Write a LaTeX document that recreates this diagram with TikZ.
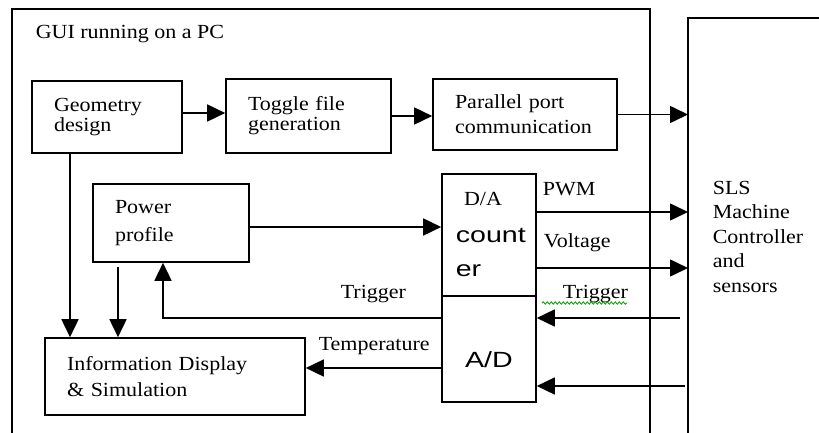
\documentclass[tikz,border=0pt]{standalone}
\usepackage{fontspec}
\setmainfont{Liberation Serif}[FakeStretch=1.1]
\newfontfamily\dacfont{Liberation Sans}[FakeStretch=1.3]
\usetikzlibrary{arrows.meta,decorations.pathmorphing}

\begin{document}
\begin{tikzpicture}[x=1pt,y=-1pt,line width=1.6pt,
    font=\fontsize{20}{20}\selectfont,
    box/.style={draw,align=left,inner xsep=22pt,inner ysep=0pt},
    lbl/.style={anchor=base west,inner sep=0pt},
    arr/.style={-{Triangle[length=18pt,width=17pt]}}]
    \useasboundingbox (0,0) rectangle (819,433);
    % Frames
        % PC
        \draw (12,433) -- (12,9) -- (650,9) -- (650,433);
        \node[lbl] (gui) at (35,39) {GUI running on a PC};
        % Machine
        \draw (688,433) -- (688,18) -- (819,18);
        \coordinate (slsedge) at (688,0);
        \node[anchor=north west,inner sep=0pt,align=left,font=\fontsize{20}{24.5}\selectfont] (sls) at (712,180) {SLS\\Machine\\Controller\\and\\sensors};
    % Boxes
        \node[box,text width=106pt,minimum height=72pt] (geo) at (107,117) {Geometry\\design};
        \node[box,text width=121pt,minimum height=74pt] (tog) at (308.5,116) {Toggle file\\generation};
        \node[box,text width=140pt,minimum height=71pt] (par) at (525,114.5) {Parallel port\\[5pt]communication};
        \node[box,text width=112pt,minimum height=78pt] (pow) at (171,223) {Power\\[8pt]profile};
        \node[box,text width=216pt,minimum height=77pt] (info) at (175,376.5) {Information Display\\[6pt]\& Simulation};
        % Converter
        \node[draw,minimum width=94pt,minimum height=122pt,inner sep=0pt] (da) at (489,235) {};
        \node[draw,minimum width=94pt,minimum height=106pt,inner sep=0pt] (ad) at (489,349) {};
        \node[anchor=base,inner sep=0pt] (datxt) at (483,205) {D/A};
        \node[lbl,font=\dacfont\fontsize{22}{26}\selectfont] (cnt) at (455,242) {count};
        \node[lbl,font=\dacfont\fontsize{22}{26}\selectfont] (er) at (455,276) {er};
        \node[anchor=base,inner sep=0pt,font=\dacfont\fontsize{22}{26}\selectfont] (adtxt) at (489,367) {A/D};
    % Arrows
        \draw[arr] ([yshift=4pt]geo.east) -- ([yshift=4pt]geo.east -| tog.west);
        \draw[arr] (tog.east) -- (tog.east -| par.west);
        \draw[arr] (par.east) -- (par.east -| slsedge);
        \draw[arr] ([xshift=-37pt]geo.south) -- ([xshift=-37pt]geo.south |- info.north);
        \draw[arr] ([xshift=-53pt,yshift=-4pt]pow.south) -- ([xshift=-53pt]pow.south |- info.north);
        \draw[arr] ([yshift=-4pt]pow.east) -- ([yshift=-4pt]pow.east -| da.west);
        \draw[arr] ([yshift=31pt]ad.west) -| ([xshift=-8pt]pow.south);
        \draw[arr] ([yshift=-19pt]ad.west) -- ([yshift=-19pt]ad.west -| info.east);
        \draw[arr] ([yshift=23pt]da.east) -- ([yshift=23pt]da.east -| slsedge);
        \draw[arr] ([yshift=-33pt]da.east) -- ([yshift=-33pt]da.east -| slsedge);
        \coordinate (trigin) at (680,318);
        \coordinate (sensin) at (685,386);
        \draw[arr] (trigin) -- (trigin -| ad.east);
        \draw[arr] (sensin) -- (sensin -| ad.east);
    % Labels
        \node[lbl] (trigl) at (340,298) {Trigger};
        \node[lbl] (temp) at (318,350) {Temperature};
        \node[lbl] (pwm) at (542,195) {PWM};
        \node[lbl] (volt) at (543,247) {Voltage};
        \node[lbl] (trigr) at (562,298) {Trigger};
        \draw[green!60!black,line width=0.8pt,decorate,decoration={snake,amplitude=1.2pt,segment length=4pt}] (542,303) -- (627,303);
\end{tikzpicture}
\end{document}
